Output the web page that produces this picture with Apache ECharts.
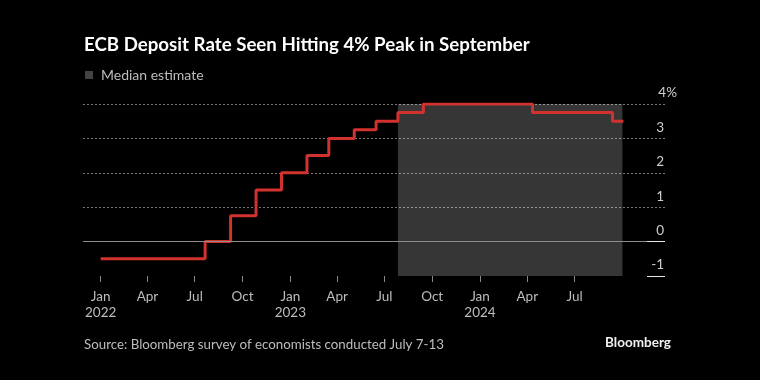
<!DOCTYPE html>
<html>
<head>
<meta charset="utf-8">
<script src="https://cdn.jsdelivr.net/npm/echarts@6/dist/echarts.min.js"></script>
<style>
  html, body { margin: 0; padding: 0; background: #000; }
  #chart { width: 760px; height: 380px; }
</style>
</head>
<body>
<div id="chart"></div>
<script>
// ---- Data ----
const stepDates = ['2022-01-01','2022-07-21','2022-09-08','2022-10-27','2022-12-15','2023-02-02','2023-03-16','2023-05-04','2023-06-15','2023-07-27','2023-09-14','2024-04-11','2024-09-12','2024-10-03'];
const stepRates = [-0.5, 0, 0.75, 1.5, 2.0, 2.5, 3.0, 3.25, 3.5, 3.75, 4.0, 3.75, 3.5, 3.5];
const shadeRange = ['2023-07-27', '2024-10-01'];
const tickDates = ['2022-01-01','2022-04-01','2022-07-01','2022-10-01','2023-01-01','2023-04-01','2023-07-01','2023-10-01','2024-01-01','2024-04-01','2024-07-01'];
const tickLabels = ['Jan\n2022','Apr','Jul','Oct','Jan\n2023','Apr','Jul','Oct','Jan\n2024','Apr','Jul'];
const axisRange = ['2021-11-28', '2024-12-22'];
const yTicks = [-1, 0, 1, 2, 3, 4];

const FONT = 'Lato';
const ORIGIN = Date.parse('2022-01-01');
const toDay = d => Math.round((Date.parse(d) - ORIGIN) / 864e5);
const tickDays = tickDates.map(toDay);

const chart = echarts.init(document.getElementById('chart'), null, { renderer: 'canvas' });
chart.setOption({
  backgroundColor: '#000',
  animation: false,
  textStyle: { fontFamily: FONT },
  title: [
    { text: 'ECB Deposit Rate Seen Hitting 4% Peak in September', left: 84, top: 35, padding: 0,
      textStyle: { color: '#fff', fontSize: 18.7, fontWeight: 'bold', fontFamily: FONT } },
    { text: 'Source: Bloomberg survey of economists conducted July 7-13', left: 84, top: 338, padding: 0,
      textStyle: { color: '#bdbdbd', fontSize: 13.3, fontWeight: 'normal', fontFamily: FONT } },
    { text: 'Bloomberg', right: 89, top: 336, padding: 0,
      textStyle: { color: '#f0f0f0', fontSize: 13.5, fontWeight: 'bold', fontFamily: FONT } }
  ],
  legend: {
    left: 85, top: 68, padding: 0,
    itemWidth: 8, itemHeight: 8, itemGap: 10,
    selectedMode: false,
    data: [{ name: 'Median estimate', icon: 'rect', itemStyle: { color: '#444' } }],
    textStyle: { color: '#bdbdbd', fontSize: 14, fontFamily: FONT, padding: [0, 0, 0, 3] }
  },
  grid: { left: 83, right: 95, top: 104, bottom: 104, containLabel: false },
  xAxis: {
    type: 'value',
    min: toDay(axisRange[0]),
    max: toDay(axisRange[1]),
    axisLine: { show: false, onZero: false },
    splitLine: { show: false },
    axisTick: { show: true, customValues: tickDays, length: 6, lineStyle: { color: '#8a8a8a' } },
    axisLabel: {
      customValues: tickDays,
      color: '#bdbdbd', fontSize: 13.5, fontFamily: FONT, lineHeight: 16.5, margin: 12,
      formatter: v => {
        let best = 0;
        tickDays.forEach((t, i) => { if (Math.abs(t - v) < Math.abs(tickDays[best] - v)) best = i; });
        return tickLabels[best];
      }
    }
  },
  yAxis: [
    {
      type: 'value', position: 'right', min: yTicks[0], max: yTicks[yTicks.length - 1], interval: 1,
      axisLine: { show: false },
      axisTick: { show: false },
      splitLine: { show: true, showMinLine: false, lineStyle: { color: '#7a7a7a', type: [2, 2], width: 1 } },
      axisLabel: {
        inside: true, margin: 15, align: 'left', verticalAlign: 'bottom', padding: [0, 0, 4, 0],
        color: '#cfcfcf', fontSize: 13.5, fontFamily: FONT,
        formatter: v => v === 4 ? '{m|4%}' : '{n|' + v + '}',
        rich: {
          n: { width: 14, align: 'right', color: '#cfcfcf', fontSize: 13.5, fontFamily: FONT },
          m: { width: 27, align: 'right', color: '#cfcfcf', fontSize: 13.5, fontFamily: FONT }
        }
      }
    },
    {
      type: 'value', position: 'right', min: yTicks[0], max: yTicks[yTicks.length - 1], interval: 1, z: 10,
      axisLine: { show: false },
      axisLabel: { show: false },
      splitLine: { show: false },
      axisTick: { show: true, inside: true, length: 18, customValues: [-1, 0], lineStyle: { color: '#e6e6e6', width: 1 } }
    }
  ],
  series: [
    {
      name: 'Median estimate',
      type: 'line',
      step: 'end',
      yAxisIndex: 0,
      showSymbol: false,
      symbol: 'none',
      z: 3,
      lineStyle: { color: '#d2322d', width: 3 },
      data: stepDates.map((d, i) => [toDay(d), stepRates[i]]),
      markArea: {
        silent: true,
        itemStyle: { color: 'rgba(255,255,255,0.21)' },
        data: [[{ xAxis: toDay(shadeRange[0]) }, { xAxis: toDay(shadeRange[1]) }]]
      },
      markLine: {
        silent: true, symbol: 'none', label: { show: false },
        lineStyle: { color: '#8c8c8c', type: 'solid', width: 1 },
        data: [{ yAxis: 0 }]
      }
    }
  ]
});
</script>
</body>
</html>
